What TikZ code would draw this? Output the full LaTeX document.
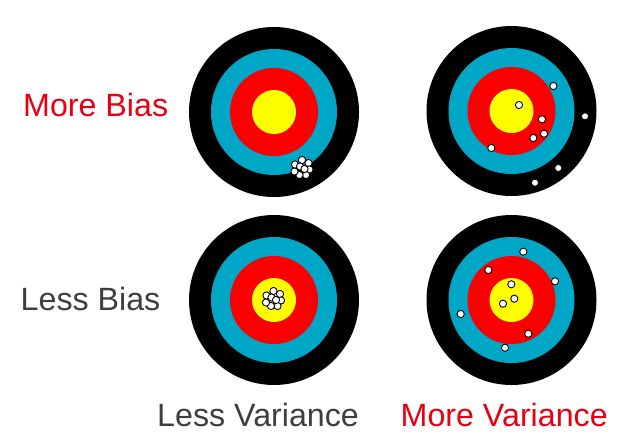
\documentclass[tikz,border=0pt]{standalone}
\usepackage{fontspec}
\setmainfont{Liberation Sans}
\usepackage{tikz}

\definecolor{ringcyan}{RGB}{0,166,198}
\definecolor{ringred}{RGB}{250,0,0}
\definecolor{ringyellow}{RGB}{255,255,0}
\definecolor{labelred}{RGB}{232,0,18}
\definecolor{labelgray}{RGB}{62,62,62}

\begin{document}
\begin{tikzpicture}[
    x=1pt, y=-1pt,
    axislabel/.style={font=\fontsize{32.2}{32}\selectfont, anchor=base west, inner sep=0pt},
    hit/.style={fill=white, draw=black, line width=0.9pt}
]
\useasboundingbox (0,0) rectangle (623,442);

% target centres
\coordinate (tl) at (274,112);
\coordinate (tr) at (511.5,111);
\coordinate (bl) at (274,300);
\coordinate (br) at (511.5,300);

\foreach \c in {tl,tr,bl,br} {
    \fill[black] (\c) circle (85);
    \fill[ringcyan] (\c) circle (63);
    \fill[ringred] (\c) circle (44);
    \fill[ringyellow] (\c) circle (22);
}

% tight clusters
\foreach \dx/\dy in {0/-7.5, 6.5/-4.5, 7.5/2, 4/7.5, -2.5/7.5, -7.5/4, -7/-3, -2/-1, 2.5/1.5} {
    \filldraw[hit] ([shift={(\dx,\dy)}]302,167.5) circle (3.6);
    \filldraw[hit] ([shift={(\dx,\dy)}]273.5,298.5) circle (3.6);
}

% scattered hits
\foreach \x/\y in {553.3/86, 519/105, 542/119.3, 544/133.7, 533.3/138, 491.3/148,
                   585/116.3, 558.3/168, 535/182.7,
                   523.3/251.7, 488.3/270, 555/281.3, 511.3/284.3, 514.3/298.7,
                   503/303.7, 460.7/314, 528.3/333.7, 505/347.7} {
    \filldraw[hit] (\x,\y) circle (3.6);
}

\node[axislabel, text=labelred] (morebias) at (23,116.7) {More Bias};
\node[axislabel, text=labelgray] (lessbias) at (20.5,310) {Less Bias};
\node[axislabel, text=labelgray] (lessvar) at (157,426.7) {Less Variance};
\node[axislabel, text=labelred] (morevar) at (400.5,426.7) {More Variance};
\end{tikzpicture}
\end{document}
